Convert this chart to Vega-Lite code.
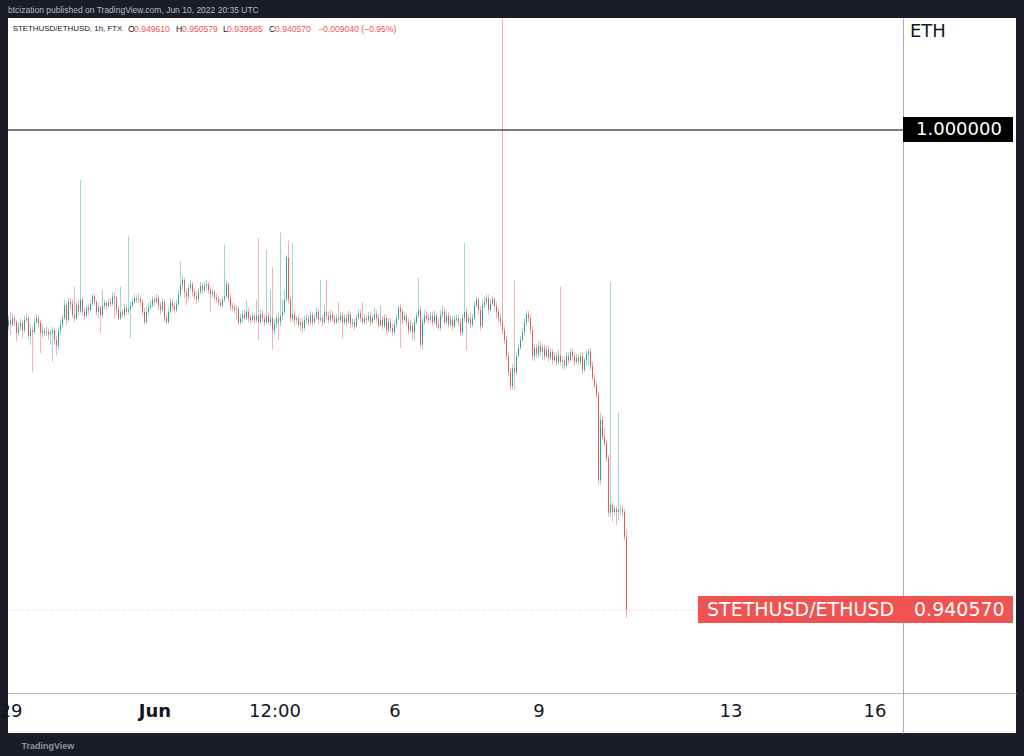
{
"$schema": "https://vega.github.io/schema/vega-lite/v6.json",
"width": 1008, "height": 715,
"autosize": {"type": "none"},
"padding": {"left": 8, "top": 18, "right": 8, "bottom": 23},
"background": "#1a1d28",
"view": {"fill": "#ffffff", "stroke": null},
"title": {"text": "btcization published on TradingView.com, Jun 10, 2022 20:35 UTC", "anchor": "start", "frame": "group", "font": "Liberation Sans", "fontSize": 8.5, "fontWeight": "normal", "color": "#b7b9c0", "offset": 4},
"data": {"values": [
{"t":"2022-05-28T23:00Z","o":0.9757,"h":0.9770,"l":0.9752,"c":0.9764},
{"t":"2022-05-29T00:00Z","o":0.9764,"h":0.9775,"l":0.9746,"c":0.9759},
{"t":"2022-05-29T01:00Z","o":0.9759,"h":0.9773,"l":0.9756,"c":0.9767},
{"t":"2022-05-29T02:00Z","o":0.9767,"h":0.9771,"l":0.9757,"c":0.9762},
{"t":"2022-05-29T03:00Z","o":0.9762,"h":0.9765,"l":0.9738,"c":0.9749},
{"t":"2022-05-29T04:00Z","o":0.9749,"h":0.9762,"l":0.9745,"c":0.9756},
{"t":"2022-05-29T05:00Z","o":0.9756,"h":0.9767,"l":0.9752,"c":0.9761},
{"t":"2022-05-29T06:00Z","o":0.9761,"h":0.9765,"l":0.9742,"c":0.9752},
{"t":"2022-05-29T07:00Z","o":0.9752,"h":0.9770,"l":0.9749,"c":0.9765},
{"t":"2022-05-29T08:00Z","o":0.9765,"h":0.9773,"l":0.9762,"c":0.9767},
{"t":"2022-05-29T09:00Z","o":0.9767,"h":0.9770,"l":0.9740,"c":0.9745},
{"t":"2022-05-29T10:00Z","o":0.9745,"h":0.9760,"l":0.9734,"c":0.9752},
{"t":"2022-05-29T11:00Z","o":0.9752,"h":0.9757,"l":0.9700,"c":0.9750},
{"t":"2022-05-29T12:00Z","o":0.9750,"h":0.9767,"l":0.9747,"c":0.9762},
{"t":"2022-05-29T13:00Z","o":0.9762,"h":0.9772,"l":0.9761,"c":0.9767},
{"t":"2022-05-29T14:00Z","o":0.9767,"h":0.9771,"l":0.9755,"c":0.9761},
{"t":"2022-05-29T15:00Z","o":0.9761,"h":0.9765,"l":0.9724,"c":0.9749},
{"t":"2022-05-29T16:00Z","o":0.9749,"h":0.9759,"l":0.9742,"c":0.9751},
{"t":"2022-05-29T17:00Z","o":0.9751,"h":0.9755,"l":0.9745,"c":0.9749},
{"t":"2022-05-29T18:00Z","o":0.9749,"h":0.9756,"l":0.9745,"c":0.9750},
{"t":"2022-05-29T19:00Z","o":0.9750,"h":0.9754,"l":0.9740,"c":0.9747},
{"t":"2022-05-29T20:00Z","o":0.9747,"h":0.9752,"l":0.9734,"c":0.9749},
{"t":"2022-05-29T21:00Z","o":0.9749,"h":0.9756,"l":0.9713,"c":0.9752},
{"t":"2022-05-29T22:00Z","o":0.9752,"h":0.9755,"l":0.9734,"c":0.9740},
{"t":"2022-05-29T23:00Z","o":0.9740,"h":0.9745,"l":0.9721,"c":0.9733},
{"t":"2022-05-30T00:00Z","o":0.9733,"h":0.9756,"l":0.9728,"c":0.9752},
{"t":"2022-05-30T01:00Z","o":0.9752,"h":0.9765,"l":0.9746,"c":0.9759},
{"t":"2022-05-30T02:00Z","o":0.9759,"h":0.9771,"l":0.9755,"c":0.9767},
{"t":"2022-05-30T03:00Z","o":0.9767,"h":0.9790,"l":0.9765,"c":0.9783},
{"t":"2022-05-30T04:00Z","o":0.9783,"h":0.9786,"l":0.9759,"c":0.9765},
{"t":"2022-05-30T05:00Z","o":0.9765,"h":0.9792,"l":0.9762,"c":0.9787},
{"t":"2022-05-30T06:00Z","o":0.9787,"h":0.9792,"l":0.9777,"c":0.9785},
{"t":"2022-05-30T07:00Z","o":0.9785,"h":0.9790,"l":0.9767,"c":0.9771},
{"t":"2022-05-30T08:00Z","o":0.9771,"h":0.9806,"l":0.9762,"c":0.9767},
{"t":"2022-05-30T09:00Z","o":0.9767,"h":0.9787,"l":0.9765,"c":0.9783},
{"t":"2022-05-30T10:00Z","o":0.9783,"h":0.9790,"l":0.9771,"c":0.9775},
{"t":"2022-05-30T11:00Z","o":0.9775,"h":0.9938,"l":0.9773,"c":0.9790},
{"t":"2022-05-30T12:00Z","o":0.9790,"h":0.9792,"l":0.9770,"c":0.9775},
{"t":"2022-05-30T13:00Z","o":0.9775,"h":0.9780,"l":0.9765,"c":0.9770},
{"t":"2022-05-30T14:00Z","o":0.9770,"h":0.9783,"l":0.9767,"c":0.9780},
{"t":"2022-05-30T15:00Z","o":0.9780,"h":0.9785,"l":0.9771,"c":0.9777},
{"t":"2022-05-30T16:00Z","o":0.9777,"h":0.9790,"l":0.9775,"c":0.9785},
{"t":"2022-05-30T17:00Z","o":0.9785,"h":0.9797,"l":0.9782,"c":0.9794},
{"t":"2022-05-30T18:00Z","o":0.9794,"h":0.9797,"l":0.9783,"c":0.9787},
{"t":"2022-05-30T19:00Z","o":0.9787,"h":0.9790,"l":0.9770,"c":0.9775},
{"t":"2022-05-30T20:00Z","o":0.9775,"h":0.9786,"l":0.9767,"c":0.9780},
{"t":"2022-05-30T21:00Z","o":0.9780,"h":0.9783,"l":0.9749,"c":0.9771},
{"t":"2022-05-30T22:00Z","o":0.9771,"h":0.9802,"l":0.9767,"c":0.9782},
{"t":"2022-05-30T23:00Z","o":0.9782,"h":0.9790,"l":0.9778,"c":0.9786},
{"t":"2022-05-31T00:00Z","o":0.9786,"h":0.9788,"l":0.9777,"c":0.9782},
{"t":"2022-05-31T01:00Z","o":0.9782,"h":0.9791,"l":0.9780,"c":0.9787},
{"t":"2022-05-31T02:00Z","o":0.9787,"h":0.9792,"l":0.9781,"c":0.9785},
{"t":"2022-05-31T03:00Z","o":0.9785,"h":0.9799,"l":0.9782,"c":0.9794},
{"t":"2022-05-31T04:00Z","o":0.9794,"h":0.9798,"l":0.9767,"c":0.9792},
{"t":"2022-05-31T05:00Z","o":0.9792,"h":0.9794,"l":0.9771,"c":0.9777},
{"t":"2022-05-31T06:00Z","o":0.9777,"h":0.9782,"l":0.9765,"c":0.9767},
{"t":"2022-05-31T07:00Z","o":0.9767,"h":0.9806,"l":0.9765,"c":0.9775},
{"t":"2022-05-31T08:00Z","o":0.9775,"h":0.9778,"l":0.9767,"c":0.9771},
{"t":"2022-05-31T09:00Z","o":0.9771,"h":0.9785,"l":0.9767,"c":0.9780},
{"t":"2022-05-31T10:00Z","o":0.9780,"h":0.9783,"l":0.9770,"c":0.9775},
{"t":"2022-05-31T11:00Z","o":0.9775,"h":0.9868,"l":0.9772,"c":0.9778},
{"t":"2022-05-31T12:00Z","o":0.9778,"h":0.9787,"l":0.9742,"c":0.9782},
{"t":"2022-05-31T13:00Z","o":0.9782,"h":0.9792,"l":0.9780,"c":0.9787},
{"t":"2022-05-31T14:00Z","o":0.9787,"h":0.9797,"l":0.9785,"c":0.9792},
{"t":"2022-05-31T15:00Z","o":0.9792,"h":0.9796,"l":0.9786,"c":0.9790},
{"t":"2022-05-31T16:00Z","o":0.9790,"h":0.9798,"l":0.9786,"c":0.9791},
{"t":"2022-05-31T17:00Z","o":0.9791,"h":0.9794,"l":0.9782,"c":0.9787},
{"t":"2022-05-31T18:00Z","o":0.9787,"h":0.9790,"l":0.9770,"c":0.9775},
{"t":"2022-05-31T19:00Z","o":0.9775,"h":0.9780,"l":0.9759,"c":0.9762},
{"t":"2022-05-31T20:00Z","o":0.9762,"h":0.9782,"l":0.9760,"c":0.9775},
{"t":"2022-05-31T21:00Z","o":0.9775,"h":0.9786,"l":0.9770,"c":0.9780},
{"t":"2022-05-31T22:00Z","o":0.9780,"h":0.9790,"l":0.9777,"c":0.9783},
{"t":"2022-05-31T23:00Z","o":0.9783,"h":0.9794,"l":0.9780,"c":0.9790},
{"t":"2022-06-01T00:00Z","o":0.9790,"h":0.9794,"l":0.9782,"c":0.9787},
{"t":"2022-06-01T01:00Z","o":0.9787,"h":0.9797,"l":0.9785,"c":0.9792},
{"t":"2022-06-01T02:00Z","o":0.9792,"h":0.9796,"l":0.9777,"c":0.9783},
{"t":"2022-06-01T03:00Z","o":0.9783,"h":0.9787,"l":0.9772,"c":0.9777},
{"t":"2022-06-01T04:00Z","o":0.9777,"h":0.9792,"l":0.9775,"c":0.9787},
{"t":"2022-06-01T05:00Z","o":0.9787,"h":0.9790,"l":0.9762,"c":0.9767},
{"t":"2022-06-01T06:00Z","o":0.9767,"h":0.9771,"l":0.9759,"c":0.9762},
{"t":"2022-06-01T07:00Z","o":0.9762,"h":0.9780,"l":0.9760,"c":0.9775},
{"t":"2022-06-01T08:00Z","o":0.9775,"h":0.9792,"l":0.9772,"c":0.9787},
{"t":"2022-06-01T09:00Z","o":0.9787,"h":0.9791,"l":0.9777,"c":0.9782},
{"t":"2022-06-01T10:00Z","o":0.9782,"h":0.9786,"l":0.9773,"c":0.9777},
{"t":"2022-06-01T11:00Z","o":0.9777,"h":0.9790,"l":0.9775,"c":0.9785},
{"t":"2022-06-01T12:00Z","o":0.9785,"h":0.9802,"l":0.9782,"c":0.9796},
{"t":"2022-06-01T13:00Z","o":0.9796,"h":0.9837,"l":0.9793,"c":0.9808},
{"t":"2022-06-01T14:00Z","o":0.9808,"h":0.9820,"l":0.9802,"c":0.9814},
{"t":"2022-06-01T15:00Z","o":0.9814,"h":0.9817,"l":0.9792,"c":0.9799},
{"t":"2022-06-01T16:00Z","o":0.9799,"h":0.9804,"l":0.9783,"c":0.9794},
{"t":"2022-06-01T17:00Z","o":0.9794,"h":0.9809,"l":0.9790,"c":0.9804},
{"t":"2022-06-01T18:00Z","o":0.9804,"h":0.9814,"l":0.9802,"c":0.9809},
{"t":"2022-06-01T19:00Z","o":0.9809,"h":0.9812,"l":0.9794,"c":0.9799},
{"t":"2022-06-01T20:00Z","o":0.9799,"h":0.9804,"l":0.9790,"c":0.9794},
{"t":"2022-06-01T21:00Z","o":0.9794,"h":0.9801,"l":0.9785,"c":0.9790},
{"t":"2022-06-01T22:00Z","o":0.9790,"h":0.9804,"l":0.9787,"c":0.9799},
{"t":"2022-06-01T23:00Z","o":0.9799,"h":0.9812,"l":0.9797,"c":0.9807},
{"t":"2022-06-02T00:00Z","o":0.9807,"h":0.9811,"l":0.9797,"c":0.9802},
{"t":"2022-06-02T01:00Z","o":0.9802,"h":0.9812,"l":0.9799,"c":0.9807},
{"t":"2022-06-02T02:00Z","o":0.9807,"h":0.9814,"l":0.9802,"c":0.9809},
{"t":"2022-06-02T03:00Z","o":0.9809,"h":0.9812,"l":0.9797,"c":0.9802},
{"t":"2022-06-02T04:00Z","o":0.9802,"h":0.9806,"l":0.9775,"c":0.9797},
{"t":"2022-06-02T05:00Z","o":0.9797,"h":0.9804,"l":0.9793,"c":0.9799},
{"t":"2022-06-02T06:00Z","o":0.9799,"h":0.9802,"l":0.9790,"c":0.9793},
{"t":"2022-06-02T07:00Z","o":0.9793,"h":0.9797,"l":0.9786,"c":0.9790},
{"t":"2022-06-02T08:00Z","o":0.9790,"h":0.9794,"l":0.9782,"c":0.9787},
{"t":"2022-06-02T09:00Z","o":0.9787,"h":0.9791,"l":0.9780,"c":0.9783},
{"t":"2022-06-02T10:00Z","o":0.9783,"h":0.9794,"l":0.9780,"c":0.9790},
{"t":"2022-06-02T11:00Z","o":0.9790,"h":0.9858,"l":0.9787,"c":0.9794},
{"t":"2022-06-02T12:00Z","o":0.9794,"h":0.9814,"l":0.9792,"c":0.9809},
{"t":"2022-06-02T13:00Z","o":0.9809,"h":0.9812,"l":0.9787,"c":0.9792},
{"t":"2022-06-02T14:00Z","o":0.9792,"h":0.9797,"l":0.9777,"c":0.9782},
{"t":"2022-06-02T15:00Z","o":0.9782,"h":0.9786,"l":0.9775,"c":0.9780},
{"t":"2022-06-02T16:00Z","o":0.9780,"h":0.9785,"l":0.9773,"c":0.9777},
{"t":"2022-06-02T17:00Z","o":0.9777,"h":0.9783,"l":0.9765,"c":0.9778},
{"t":"2022-06-02T18:00Z","o":0.9778,"h":0.9782,"l":0.9759,"c":0.9762},
{"t":"2022-06-02T19:00Z","o":0.9762,"h":0.9773,"l":0.9759,"c":0.9767},
{"t":"2022-06-02T20:00Z","o":0.9767,"h":0.9777,"l":0.9762,"c":0.9772},
{"t":"2022-06-02T21:00Z","o":0.9772,"h":0.9777,"l":0.9764,"c":0.9767},
{"t":"2022-06-02T22:00Z","o":0.9767,"h":0.9790,"l":0.9765,"c":0.9775},
{"t":"2022-06-02T23:00Z","o":0.9775,"h":0.9780,"l":0.9762,"c":0.9767},
{"t":"2022-06-03T00:00Z","o":0.9767,"h":0.9772,"l":0.9760,"c":0.9765},
{"t":"2022-06-03T01:00Z","o":0.9765,"h":0.9775,"l":0.9762,"c":0.9770},
{"t":"2022-06-03T02:00Z","o":0.9770,"h":0.9773,"l":0.9760,"c":0.9765},
{"t":"2022-06-03T03:00Z","o":0.9765,"h":0.9790,"l":0.9762,"c":0.9770},
{"t":"2022-06-03T04:00Z","o":0.9770,"h":0.9866,"l":0.9740,"c":0.9762},
{"t":"2022-06-03T05:00Z","o":0.9762,"h":0.9777,"l":0.9760,"c":0.9772},
{"t":"2022-06-03T06:00Z","o":0.9772,"h":0.9777,"l":0.9762,"c":0.9767},
{"t":"2022-06-03T07:00Z","o":0.9767,"h":0.9772,"l":0.9757,"c":0.9762},
{"t":"2022-06-03T08:00Z","o":0.9762,"h":0.9851,"l":0.9760,"c":0.9770},
{"t":"2022-06-03T09:00Z","o":0.9770,"h":0.9775,"l":0.9759,"c":0.9762},
{"t":"2022-06-03T10:00Z","o":0.9762,"h":0.9802,"l":0.9757,"c":0.9767},
{"t":"2022-06-03T11:00Z","o":0.9767,"h":0.9830,"l":0.9728,"c":0.9752},
{"t":"2022-06-03T12:00Z","o":0.9752,"h":0.9767,"l":0.9747,"c":0.9760},
{"t":"2022-06-03T13:00Z","o":0.9760,"h":0.9772,"l":0.9755,"c":0.9767},
{"t":"2022-06-03T14:00Z","o":0.9767,"h":0.9775,"l":0.9740,"c":0.9762},
{"t":"2022-06-03T15:00Z","o":0.9762,"h":0.9873,"l":0.9757,"c":0.9770},
{"t":"2022-06-03T16:00Z","o":0.9770,"h":0.9790,"l":0.9765,"c":0.9775},
{"t":"2022-06-03T17:00Z","o":0.9775,"h":0.9802,"l":0.9771,"c":0.9790},
{"t":"2022-06-03T18:00Z","o":0.9790,"h":0.9845,"l":0.9787,"c":0.9842},
{"t":"2022-06-03T19:00Z","o":0.9842,"h":0.9864,"l":0.9785,"c":0.9790},
{"t":"2022-06-03T20:00Z","o":0.9790,"h":0.9794,"l":0.9762,"c":0.9767},
{"t":"2022-06-03T21:00Z","o":0.9767,"h":0.9860,"l":0.9762,"c":0.9772},
{"t":"2022-06-03T22:00Z","o":0.9772,"h":0.9777,"l":0.9757,"c":0.9765},
{"t":"2022-06-03T23:00Z","o":0.9765,"h":0.9770,"l":0.9760,"c":0.9767},
{"t":"2022-06-04T00:00Z","o":0.9767,"h":0.9772,"l":0.9755,"c":0.9759},
{"t":"2022-06-04T01:00Z","o":0.9759,"h":0.9767,"l":0.9752,"c":0.9762},
{"t":"2022-06-04T02:00Z","o":0.9762,"h":0.9767,"l":0.9749,"c":0.9755},
{"t":"2022-06-04T03:00Z","o":0.9755,"h":0.9770,"l":0.9752,"c":0.9765},
{"t":"2022-06-04T04:00Z","o":0.9765,"h":0.9772,"l":0.9760,"c":0.9767},
{"t":"2022-06-04T05:00Z","o":0.9767,"h":0.9771,"l":0.9757,"c":0.9762},
{"t":"2022-06-04T06:00Z","o":0.9762,"h":0.9777,"l":0.9760,"c":0.9771},
{"t":"2022-06-04T07:00Z","o":0.9771,"h":0.9775,"l":0.9757,"c":0.9762},
{"t":"2022-06-04T08:00Z","o":0.9762,"h":0.9772,"l":0.9760,"c":0.9767},
{"t":"2022-06-04T09:00Z","o":0.9767,"h":0.9780,"l":0.9765,"c":0.9775},
{"t":"2022-06-04T10:00Z","o":0.9775,"h":0.9777,"l":0.9760,"c":0.9765},
{"t":"2022-06-04T11:00Z","o":0.9765,"h":0.9814,"l":0.9762,"c":0.9767},
{"t":"2022-06-04T12:00Z","o":0.9767,"h":0.9771,"l":0.9757,"c":0.9762},
{"t":"2022-06-04T13:00Z","o":0.9762,"h":0.9783,"l":0.9760,"c":0.9775},
{"t":"2022-06-04T14:00Z","o":0.9775,"h":0.9814,"l":0.9765,"c":0.9770},
{"t":"2022-06-04T15:00Z","o":0.9770,"h":0.9775,"l":0.9760,"c":0.9765},
{"t":"2022-06-04T16:00Z","o":0.9765,"h":0.9777,"l":0.9762,"c":0.9771},
{"t":"2022-06-04T17:00Z","o":0.9771,"h":0.9775,"l":0.9762,"c":0.9767},
{"t":"2022-06-04T18:00Z","o":0.9767,"h":0.9771,"l":0.9759,"c":0.9762},
{"t":"2022-06-04T19:00Z","o":0.9762,"h":0.9772,"l":0.9760,"c":0.9767},
{"t":"2022-06-04T20:00Z","o":0.9767,"h":0.9787,"l":0.9760,"c":0.9765},
{"t":"2022-06-04T21:00Z","o":0.9765,"h":0.9775,"l":0.9762,"c":0.9770},
{"t":"2022-06-04T22:00Z","o":0.9770,"h":0.9775,"l":0.9742,"c":0.9762},
{"t":"2022-06-04T23:00Z","o":0.9762,"h":0.9772,"l":0.9759,"c":0.9767},
{"t":"2022-06-05T00:00Z","o":0.9767,"h":0.9772,"l":0.9757,"c":0.9762},
{"t":"2022-06-05T01:00Z","o":0.9762,"h":0.9777,"l":0.9760,"c":0.9772},
{"t":"2022-06-05T02:00Z","o":0.9772,"h":0.9775,"l":0.9755,"c":0.9760},
{"t":"2022-06-05T03:00Z","o":0.9760,"h":0.9767,"l":0.9756,"c":0.9762},
{"t":"2022-06-05T04:00Z","o":0.9762,"h":0.9767,"l":0.9752,"c":0.9757},
{"t":"2022-06-05T05:00Z","o":0.9757,"h":0.9772,"l":0.9755,"c":0.9767},
{"t":"2022-06-05T06:00Z","o":0.9767,"h":0.9778,"l":0.9765,"c":0.9773},
{"t":"2022-06-05T07:00Z","o":0.9773,"h":0.9777,"l":0.9762,"c":0.9767},
{"t":"2022-06-05T08:00Z","o":0.9767,"h":0.9787,"l":0.9759,"c":0.9762},
{"t":"2022-06-05T09:00Z","o":0.9762,"h":0.9772,"l":0.9760,"c":0.9767},
{"t":"2022-06-05T10:00Z","o":0.9767,"h":0.9771,"l":0.9759,"c":0.9765},
{"t":"2022-06-05T11:00Z","o":0.9765,"h":0.9775,"l":0.9762,"c":0.9770},
{"t":"2022-06-05T12:00Z","o":0.9770,"h":0.9775,"l":0.9757,"c":0.9762},
{"t":"2022-06-05T13:00Z","o":0.9762,"h":0.9772,"l":0.9760,"c":0.9767},
{"t":"2022-06-05T14:00Z","o":0.9767,"h":0.9780,"l":0.9765,"c":0.9772},
{"t":"2022-06-05T15:00Z","o":0.9772,"h":0.9777,"l":0.9762,"c":0.9767},
{"t":"2022-06-05T16:00Z","o":0.9767,"h":0.9772,"l":0.9755,"c":0.9759},
{"t":"2022-06-05T17:00Z","o":0.9759,"h":0.9783,"l":0.9756,"c":0.9765},
{"t":"2022-06-05T18:00Z","o":0.9765,"h":0.9770,"l":0.9752,"c":0.9757},
{"t":"2022-06-05T19:00Z","o":0.9757,"h":0.9772,"l":0.9755,"c":0.9767},
{"t":"2022-06-05T20:00Z","o":0.9767,"h":0.9771,"l":0.9747,"c":0.9752},
{"t":"2022-06-05T21:00Z","o":0.9752,"h":0.9767,"l":0.9749,"c":0.9762},
{"t":"2022-06-05T22:00Z","o":0.9762,"h":0.9767,"l":0.9750,"c":0.9755},
{"t":"2022-06-05T23:00Z","o":0.9755,"h":0.9760,"l":0.9745,"c":0.9750},
{"t":"2022-06-06T00:00Z","o":0.9750,"h":0.9765,"l":0.9747,"c":0.9759},
{"t":"2022-06-06T01:00Z","o":0.9759,"h":0.9772,"l":0.9755,"c":0.9767},
{"t":"2022-06-06T02:00Z","o":0.9767,"h":0.9783,"l":0.9765,"c":0.9780},
{"t":"2022-06-06T03:00Z","o":0.9780,"h":0.9785,"l":0.9730,"c":0.9775},
{"t":"2022-06-06T04:00Z","o":0.9775,"h":0.9778,"l":0.9760,"c":0.9765},
{"t":"2022-06-06T05:00Z","o":0.9765,"h":0.9775,"l":0.9762,"c":0.9770},
{"t":"2022-06-06T06:00Z","o":0.9770,"h":0.9773,"l":0.9757,"c":0.9762},
{"t":"2022-06-06T07:00Z","o":0.9762,"h":0.9767,"l":0.9747,"c":0.9752},
{"t":"2022-06-06T08:00Z","o":0.9752,"h":0.9765,"l":0.9750,"c":0.9757},
{"t":"2022-06-06T09:00Z","o":0.9757,"h":0.9762,"l":0.9740,"c":0.9750},
{"t":"2022-06-06T10:00Z","o":0.9750,"h":0.9767,"l":0.9738,"c":0.9762},
{"t":"2022-06-06T11:00Z","o":0.9762,"h":0.9775,"l":0.9759,"c":0.9770},
{"t":"2022-06-06T12:00Z","o":0.9770,"h":0.9817,"l":0.9767,"c":0.9777},
{"t":"2022-06-06T13:00Z","o":0.9777,"h":0.9782,"l":0.9730,"c":0.9734},
{"t":"2022-06-06T14:00Z","o":0.9734,"h":0.9767,"l":0.9728,"c":0.9762},
{"t":"2022-06-06T15:00Z","o":0.9762,"h":0.9777,"l":0.9759,"c":0.9770},
{"t":"2022-06-06T16:00Z","o":0.9770,"h":0.9775,"l":0.9762,"c":0.9767},
{"t":"2022-06-06T17:00Z","o":0.9767,"h":0.9772,"l":0.9760,"c":0.9765},
{"t":"2022-06-06T18:00Z","o":0.9765,"h":0.9775,"l":0.9762,"c":0.9770},
{"t":"2022-06-06T19:00Z","o":0.9770,"h":0.9775,"l":0.9757,"c":0.9762},
{"t":"2022-06-06T20:00Z","o":0.9762,"h":0.9777,"l":0.9760,"c":0.9770},
{"t":"2022-06-06T21:00Z","o":0.9770,"h":0.9773,"l":0.9755,"c":0.9759},
{"t":"2022-06-06T22:00Z","o":0.9759,"h":0.9767,"l":0.9752,"c":0.9755},
{"t":"2022-06-06T23:00Z","o":0.9755,"h":0.9777,"l":0.9752,"c":0.9771},
{"t":"2022-06-07T00:00Z","o":0.9771,"h":0.9783,"l":0.9767,"c":0.9775},
{"t":"2022-06-07T01:00Z","o":0.9775,"h":0.9780,"l":0.9759,"c":0.9762},
{"t":"2022-06-07T02:00Z","o":0.9762,"h":0.9777,"l":0.9760,"c":0.9770},
{"t":"2022-06-07T03:00Z","o":0.9770,"h":0.9775,"l":0.9755,"c":0.9759},
{"t":"2022-06-07T04:00Z","o":0.9759,"h":0.9770,"l":0.9756,"c":0.9765},
{"t":"2022-06-07T05:00Z","o":0.9765,"h":0.9770,"l":0.9752,"c":0.9757},
{"t":"2022-06-07T06:00Z","o":0.9757,"h":0.9770,"l":0.9755,"c":0.9765},
{"t":"2022-06-07T07:00Z","o":0.9765,"h":0.9772,"l":0.9762,"c":0.9767},
{"t":"2022-06-07T08:00Z","o":0.9767,"h":0.9772,"l":0.9757,"c":0.9762},
{"t":"2022-06-07T09:00Z","o":0.9762,"h":0.9767,"l":0.9745,"c":0.9750},
{"t":"2022-06-07T10:00Z","o":0.9750,"h":0.9772,"l":0.9747,"c":0.9767},
{"t":"2022-06-07T11:00Z","o":0.9767,"h":0.9860,"l":0.9762,"c":0.9775},
{"t":"2022-06-07T12:00Z","o":0.9775,"h":0.9780,"l":0.9728,"c":0.9762},
{"t":"2022-06-07T13:00Z","o":0.9762,"h":0.9772,"l":0.9760,"c":0.9767},
{"t":"2022-06-07T14:00Z","o":0.9767,"h":0.9775,"l":0.9755,"c":0.9759},
{"t":"2022-06-07T15:00Z","o":0.9759,"h":0.9772,"l":0.9756,"c":0.9767},
{"t":"2022-06-07T16:00Z","o":0.9767,"h":0.9787,"l":0.9765,"c":0.9782},
{"t":"2022-06-07T17:00Z","o":0.9782,"h":0.9794,"l":0.9780,"c":0.9790},
{"t":"2022-06-07T18:00Z","o":0.9790,"h":0.9793,"l":0.9772,"c":0.9777},
{"t":"2022-06-07T19:00Z","o":0.9777,"h":0.9782,"l":0.9752,"c":0.9757},
{"t":"2022-06-07T20:00Z","o":0.9757,"h":0.9790,"l":0.9755,"c":0.9783},
{"t":"2022-06-07T21:00Z","o":0.9783,"h":0.9793,"l":0.9780,"c":0.9787},
{"t":"2022-06-07T22:00Z","o":0.9787,"h":0.9797,"l":0.9783,"c":0.9792},
{"t":"2022-06-07T23:00Z","o":0.9792,"h":0.9796,"l":0.9772,"c":0.9777},
{"t":"2022-06-08T00:00Z","o":0.9777,"h":0.9790,"l":0.9775,"c":0.9785},
{"t":"2022-06-08T01:00Z","o":0.9785,"h":0.9794,"l":0.9782,"c":0.9790},
{"t":"2022-06-08T02:00Z","o":0.9790,"h":0.9793,"l":0.9777,"c":0.9782},
{"t":"2022-06-08T03:00Z","o":0.9782,"h":0.9787,"l":0.9767,"c":0.9775},
{"t":"2022-06-08T04:00Z","o":0.9775,"h":0.9780,"l":0.9762,"c":0.9767},
{"t":"2022-06-08T05:00Z","o":0.9767,"h":0.9772,"l":0.9757,"c":0.9762},
{"t":"2022-06-08T06:00Z","o":0.9762,"h":1.0200,"l":0.9747,"c":0.9752},
{"t":"2022-06-08T07:00Z","o":0.9752,"h":0.9757,"l":0.9735,"c":0.9740},
{"t":"2022-06-08T08:00Z","o":0.9740,"h":0.9745,"l":0.9715,"c":0.9720},
{"t":"2022-06-08T09:00Z","o":0.9720,"h":0.9725,"l":0.9695,"c":0.9700},
{"t":"2022-06-08T10:00Z","o":0.9700,"h":0.9705,"l":0.9678,"c":0.9683},
{"t":"2022-06-08T11:00Z","o":0.9683,"h":0.9710,"l":0.9678,"c":0.9705},
{"t":"2022-06-08T12:00Z","o":0.9705,"h":0.9814,"l":0.9678,"c":0.9700},
{"t":"2022-06-08T13:00Z","o":0.9700,"h":0.9725,"l":0.9697,"c":0.9720},
{"t":"2022-06-08T14:00Z","o":0.9720,"h":0.9735,"l":0.9718,"c":0.9730},
{"t":"2022-06-08T15:00Z","o":0.9730,"h":0.9745,"l":0.9728,"c":0.9740},
{"t":"2022-06-08T16:00Z","o":0.9740,"h":0.9755,"l":0.9738,"c":0.9750},
{"t":"2022-06-08T17:00Z","o":0.9750,"h":0.9767,"l":0.9745,"c":0.9762},
{"t":"2022-06-08T18:00Z","o":0.9762,"h":0.9777,"l":0.9757,"c":0.9772},
{"t":"2022-06-08T19:00Z","o":0.9772,"h":0.9776,"l":0.9762,"c":0.9767},
{"t":"2022-06-08T20:00Z","o":0.9767,"h":0.9772,"l":0.9747,"c":0.9752},
{"t":"2022-06-08T21:00Z","o":0.9752,"h":0.9757,"l":0.9715,"c":0.9720},
{"t":"2022-06-08T22:00Z","o":0.9720,"h":0.9735,"l":0.9713,"c":0.9730},
{"t":"2022-06-08T23:00Z","o":0.9730,"h":0.9735,"l":0.9718,"c":0.9723},
{"t":"2022-06-09T00:00Z","o":0.9723,"h":0.9738,"l":0.9718,"c":0.9733},
{"t":"2022-06-09T01:00Z","o":0.9733,"h":0.9738,"l":0.9720,"c":0.9725},
{"t":"2022-06-09T02:00Z","o":0.9725,"h":0.9735,"l":0.9715,"c":0.9730},
{"t":"2022-06-09T03:00Z","o":0.9730,"h":0.9734,"l":0.9715,"c":0.9720},
{"t":"2022-06-09T04:00Z","o":0.9720,"h":0.9733,"l":0.9718,"c":0.9728},
{"t":"2022-06-09T05:00Z","o":0.9728,"h":0.9733,"l":0.9713,"c":0.9718},
{"t":"2022-06-09T06:00Z","o":0.9718,"h":0.9730,"l":0.9715,"c":0.9725},
{"t":"2022-06-09T07:00Z","o":0.9725,"h":0.9729,"l":0.9710,"c":0.9715},
{"t":"2022-06-09T08:00Z","o":0.9715,"h":0.9725,"l":0.9713,"c":0.9720},
{"t":"2022-06-09T09:00Z","o":0.9720,"h":0.9725,"l":0.9708,"c":0.9713},
{"t":"2022-06-09T10:00Z","o":0.9713,"h":0.9728,"l":0.9710,"c":0.9721},
{"t":"2022-06-09T11:00Z","o":0.9721,"h":0.9806,"l":0.9708,"c":0.9713},
{"t":"2022-06-09T12:00Z","o":0.9713,"h":0.9720,"l":0.9705,"c":0.9715},
{"t":"2022-06-09T13:00Z","o":0.9715,"h":0.9720,"l":0.9703,"c":0.9708},
{"t":"2022-06-09T14:00Z","o":0.9708,"h":0.9725,"l":0.9705,"c":0.9720},
{"t":"2022-06-09T15:00Z","o":0.9720,"h":0.9725,"l":0.9710,"c":0.9715},
{"t":"2022-06-09T16:00Z","o":0.9715,"h":0.9730,"l":0.9713,"c":0.9725},
{"t":"2022-06-09T17:00Z","o":0.9725,"h":0.9729,"l":0.9715,"c":0.9720},
{"t":"2022-06-09T18:00Z","o":0.9720,"h":0.9725,"l":0.9708,"c":0.9713},
{"t":"2022-06-09T19:00Z","o":0.9713,"h":0.9723,"l":0.9710,"c":0.9718},
{"t":"2022-06-09T20:00Z","o":0.9718,"h":0.9723,"l":0.9708,"c":0.9713},
{"t":"2022-06-09T21:00Z","o":0.9713,"h":0.9725,"l":0.9709,"c":0.9720},
{"t":"2022-06-09T22:00Z","o":0.9720,"h":0.9725,"l":0.9698,"c":0.9703},
{"t":"2022-06-09T23:00Z","o":0.9703,"h":0.9718,"l":0.9700,"c":0.9715},
{"t":"2022-06-10T00:00Z","o":0.9715,"h":0.9728,"l":0.9708,"c":0.9723},
{"t":"2022-06-10T01:00Z","o":0.9723,"h":0.9730,"l":0.9709,"c":0.9726},
{"t":"2022-06-10T02:00Z","o":0.9726,"h":0.9730,"l":0.9703,"c":0.9708},
{"t":"2022-06-10T03:00Z","o":0.9708,"h":0.9713,"l":0.9690,"c":0.9693},
{"t":"2022-06-10T04:00Z","o":0.9693,"h":0.9698,"l":0.9681,"c":0.9684},
{"t":"2022-06-10T05:00Z","o":0.9684,"h":0.9690,"l":0.9668,"c":0.9672},
{"t":"2022-06-10T06:00Z","o":0.9672,"h":0.9676,"l":0.9561,"c":0.9567},
{"t":"2022-06-10T07:00Z","o":0.9567,"h":0.9650,"l":0.9561,"c":0.9641},
{"t":"2022-06-10T08:00Z","o":0.9641,"h":0.9646,"l":0.9616,"c":0.9620},
{"t":"2022-06-10T09:00Z","o":0.9620,"h":0.9631,"l":0.9608,"c":0.9612},
{"t":"2022-06-10T10:00Z","o":0.9612,"h":0.9616,"l":0.9589,"c":0.9594},
{"t":"2022-06-10T11:00Z","o":0.9594,"h":0.9598,"l":0.9521,"c":0.9526},
{"t":"2022-06-10T12:00Z","o":0.9526,"h":0.9811,"l":0.9521,"c":0.9536},
{"t":"2022-06-10T13:00Z","o":0.9536,"h":0.9539,"l":0.9515,"c":0.9527},
{"t":"2022-06-10T14:00Z","o":0.9527,"h":0.9536,"l":0.9523,"c":0.9531},
{"t":"2022-06-10T15:00Z","o":0.9531,"h":0.9534,"l":0.9511,"c":0.9527},
{"t":"2022-06-10T16:00Z","o":0.9527,"h":0.9650,"l":0.9517,"c":0.9530},
{"t":"2022-06-10T17:00Z","o":0.9530,"h":0.9536,"l":0.9523,"c":0.9531},
{"t":"2022-06-10T18:00Z","o":0.9531,"h":0.9534,"l":0.9521,"c":0.9527},
{"t":"2022-06-10T19:00Z","o":0.9527,"h":0.9531,"l":0.9492,"c":0.94961},
{"t":"2022-06-10T20:00Z","o":0.949610,"h":0.950579,"l":0.939585,"c":0.940570}
]},
"layer": [
{"mark": {"type": "rule", "clip": true, "strokeWidth": 1, "opacity": 0.45},
 "encoding": {
  "x": {"field": "t", "type": "temporal",
   "scale": {"type": "utc", "padding": 0, "domain": [{"year": 2022, "month": 5, "date": 28, "hours": 22, "minutes": 45, "utc": true}, {"year": 2022, "month": 6, "date": 18, "hours": 22, "minutes": 45, "utc": true}]},
   "axis": {"orient": "bottom", "offset": -40,
    "values": [{"year": 2022, "month": 5, "date": 29, "utc": true}, {"year": 2022, "month": 6, "date": 1, "utc": true}, {"year": 2022, "month": 6, "date": 3, "hours": 12, "utc": true}, {"year": 2022, "month": 6, "date": 6, "utc": true}, {"year": 2022, "month": 6, "date": 9, "utc": true}, {"year": 2022, "month": 6, "date": 13, "utc": true}, {"year": 2022, "month": 6, "date": 16, "utc": true}],
    "labelExpr": "utchours(datum.value) == 12 ? '12:00' : (utcdate(datum.value) == 1 ? 'Jun' : '' + utcdate(datum.value))",
    "labelFont": "DejaVu Sans", "labelFontSize": 18, "labelColor": "#131722",
    "labelFontWeight": {"condition": {"test": "utcdate(datum.value) == 1 && utchours(datum.value) == 0", "value": "bold"}, "value": "normal"},
    "labelPadding": 9, "labelFlush": false, "labelOverlap": false,
    "ticks": false, "grid": false, "domainColor": "#b2b5be", "domainWidth": 1,
    "title": "TradingView", "titleFont": "Liberation Sans", "titleFontSize": 9, "titleFontWeight": "bold", "titleColor": "#8e919a",
    "titleX": 13, "titleY": 52, "titleAlign": "left", "titleAnchor": "start", "titleBaseline": "middle"}},
  "y": {"field": "l", "type": "quantitative",
   "scale": {"domain": [0.925344, 1.013867], "zero": false, "nice": false, "padding": 0},
   "axis": {"orient": "right", "offset": -113, "labels": false, "ticks": false, "grid": false, "domainColor": "#a9acb5", "title": null}},
  "y2": {"field": "h"},
  "color": {"condition": {"test": "datum.c < datum.o", "value": "#ef5350"}, "value": "#26a69a"}
 }},
{"mark": {"type": "bar", "clip": true, "width": 1, "opacity": 1},
 "encoding": {
  "x": {"field": "t", "type": "temporal"},
  "y": {"field": "o", "type": "quantitative"},
  "y2": {"field": "c"},
  "color": {"condition": {"test": "datum.c < datum.o", "value": "#ef5350"}, "value": "#26a69a"}
 }},
{"data": {"values": [{"p": 1.0}]},
 "mark": {"type": "rule", "color": "#000000", "strokeWidth": 1.2},
 "encoding": {
  "x": {"datum": {"year": 2022, "month": 5, "date": 28, "hours": 22, "minutes": 45, "utc": true}, "type": "temporal"},
  "x2": {"datum": {"year": 2022, "month": 6, "date": 16, "hours": 14, "minutes": 15, "utc": true}},
  "y": {"field": "p", "type": "quantitative"}
 }},
{"data": {"values": [{"p": 0.94057}]},
 "mark": {"type": "rule", "color": "#f4a9a8", "strokeWidth": 1, "strokeDash": [1, 2], "opacity": 0.7},
 "encoding": {
  "x": {"datum": {"year": 2022, "month": 5, "date": 28, "hours": 22, "minutes": 45, "utc": true}, "type": "temporal"},
  "x2": {"datum": {"year": 2022, "month": 6, "date": 12, "hours": 7, "minutes": 45, "utc": true}},
  "y": {"field": "p", "type": "quantitative"}
 }},
{"data": {"values": [{"top": 1.00161, "bottom": 0.99851}]},
 "mark": {"type": "rect", "color": "#000000"},
 "encoding": {
  "x": {"datum": {"year": 2022, "month": 6, "date": 16, "hours": 14, "minutes": 15, "utc": true}, "type": "temporal"},
  "x2": {"datum": {"year": 2022, "month": 6, "date": 18, "hours": 21, "minutes": 15, "utc": true}},
  "y": {"field": "top", "type": "quantitative"},
  "y2": {"field": "bottom"}
 }},
{"data": {"values": [{"top": 0.94231, "bottom": 0.93896}]},
 "mark": {"type": "rect", "color": "#f05350"},
 "encoding": {
  "x": {"datum": {"year": 2022, "month": 6, "date": 12, "hours": 7, "minutes": 45, "utc": true}, "type": "temporal"},
  "x2": {"datum": {"year": 2022, "month": 6, "date": 18, "hours": 21, "minutes": 15, "utc": true}},
  "y": {"field": "top", "type": "quantitative"},
  "y2": {"field": "bottom"}
 }},
{"data": {"values": [{"s": "1.000000", "p": 1.0}]},
 "mark": {"type": "text", "align": "left", "baseline": "middle", "font": "DejaVu Sans", "fontSize": 18, "color": "#ffffff"},
 "encoding": {
  "x": {"datum": {"year": 2022, "month": 6, "date": 16, "hours": 20, "minutes": 45, "utc": true}, "type": "temporal"},
  "y": {"field": "p", "type": "quantitative"},
  "text": {"field": "s"}
 }},
{"data": {"values": [{"s": "0.940570", "p": 0.94057}]},
 "mark": {"type": "text", "align": "left", "baseline": "middle", "font": "DejaVu Sans", "fontSize": 19, "color": "#ffffff"},
 "encoding": {
  "x": {"datum": {"year": 2022, "month": 6, "date": 16, "hours": 19, "minutes": 45, "utc": true}, "type": "temporal"},
  "y": {"field": "p", "type": "quantitative"},
  "text": {"field": "s"}
 }},
{"data": {"values": [{"s": "STETHUSD/ETHUSD", "p": 0.94057}]},
 "mark": {"type": "text", "align": "left", "baseline": "middle", "font": "DejaVu Sans", "fontSize": 19, "color": "#ffffff"},
 "encoding": {
  "x": {"datum": {"year": 2022, "month": 6, "date": 12, "hours": 12, "minutes": 15, "utc": true}, "type": "temporal"},
  "y": {"field": "p", "type": "quantitative"},
  "text": {"field": "s"}
 }},
{"data": {"values": [{"s": "ETH", "p": 1.01213}]},
 "mark": {"type": "text", "align": "left", "baseline": "middle", "font": "DejaVu Sans", "fontSize": 18, "color": "#131722"},
 "encoding": {
  "x": {"datum": {"year": 2022, "month": 6, "date": 16, "hours": 17, "minutes": 45, "utc": true}, "type": "temporal"},
  "y": {"field": "p", "type": "quantitative"},
  "text": {"field": "s"}
 }},
{"data": {"values": [{"s": "STETHUSD/ETHUSD, 1h, FTX", "p": 1.0125}]},
 "mark": {"type": "text", "align": "left", "baseline": "middle", "font": "Liberation Sans", "fontSize": 7.9, "color": "#131722"},
 "encoding": {
  "x": {"datum": {"year": 2022, "month": 5, "date": 29, "hours": 1, "minutes": 6, "utc": true}, "type": "temporal"},
  "y": {"field": "p", "type": "quantitative"},
  "text": {"field": "s"}
 }},
{"data": {"values": [{"s": "O", "p": 1.0125}]},
 "mark": {"type": "text", "align": "left", "baseline": "middle", "font": "Liberation Sans", "fontSize": 8.6, "color": "#131722"},
 "encoding": {
  "x": {"datum": {"year": 2022, "month": 5, "date": 31, "hours": 10, "minutes": 45, "utc": true}, "type": "temporal"},
  "y": {"field": "p", "type": "quantitative"},
  "text": {"field": "s"}
 }},
{"data": {"values": [{"s": "0.949610", "p": 1.0125}]},
 "mark": {"type": "text", "align": "left", "baseline": "middle", "font": "Liberation Sans", "fontSize": 8.6, "color": "#ef5350"},
 "encoding": {
  "x": {"datum": {"year": 2022, "month": 5, "date": 31, "hours": 13, "minutes": 45, "utc": true}, "type": "temporal"},
  "y": {"field": "p", "type": "quantitative"},
  "text": {"field": "s"}
 }},
{"data": {"values": [{"s": "H", "p": 1.0125}]},
 "mark": {"type": "text", "align": "left", "baseline": "middle", "font": "Liberation Sans", "fontSize": 8.6, "color": "#131722"},
 "encoding": {
  "x": {"datum": {"year": 2022, "month": 6, "date": 1, "hours": 10, "minutes": 45, "utc": true}, "type": "temporal"},
  "y": {"field": "p", "type": "quantitative"},
  "text": {"field": "s"}
 }},
{"data": {"values": [{"s": "0.950579", "p": 1.0125}]},
 "mark": {"type": "text", "align": "left", "baseline": "middle", "font": "Liberation Sans", "fontSize": 8.6, "color": "#ef5350"},
 "encoding": {
  "x": {"datum": {"year": 2022, "month": 6, "date": 1, "hours": 13, "minutes": 45, "utc": true}, "type": "temporal"},
  "y": {"field": "p", "type": "quantitative"},
  "text": {"field": "s"}
 }},
{"data": {"values": [{"s": "L", "p": 1.0125}]},
 "mark": {"type": "text", "align": "left", "baseline": "middle", "font": "Liberation Sans", "fontSize": 8.6, "color": "#131722"},
 "encoding": {
  "x": {"datum": {"year": 2022, "month": 6, "date": 2, "hours": 10, "minutes": 15, "utc": true}, "type": "temporal"},
  "y": {"field": "p", "type": "quantitative"},
  "text": {"field": "s"}
 }},
{"data": {"values": [{"s": "0.939585", "p": 1.0125}]},
 "mark": {"type": "text", "align": "left", "baseline": "middle", "font": "Liberation Sans", "fontSize": 8.6, "color": "#ef5350"},
 "encoding": {
  "x": {"datum": {"year": 2022, "month": 6, "date": 2, "hours": 12, "minutes": 15, "utc": true}, "type": "temporal"},
  "y": {"field": "p", "type": "quantitative"},
  "text": {"field": "s"}
 }},
{"data": {"values": [{"s": "C", "p": 1.0125}]},
 "mark": {"type": "text", "align": "left", "baseline": "middle", "font": "Liberation Sans", "fontSize": 8.6, "color": "#131722"},
 "encoding": {
  "x": {"datum": {"year": 2022, "month": 6, "date": 3, "hours": 9, "minutes": 15, "utc": true}, "type": "temporal"},
  "y": {"field": "p", "type": "quantitative"},
  "text": {"field": "s"}
 }},
{"data": {"values": [{"s": "0.940570", "p": 1.0125}]},
 "mark": {"type": "text", "align": "left", "baseline": "middle", "font": "Liberation Sans", "fontSize": 8.6, "color": "#ef5350"},
 "encoding": {
  "x": {"datum": {"year": 2022, "month": 6, "date": 3, "hours": 12, "minutes": 15, "utc": true}, "type": "temporal"},
  "y": {"field": "p", "type": "quantitative"},
  "text": {"field": "s"}
 }},
{"data": {"values": [{"s": "−0.009040 (−0.95%)", "p": 1.0125}]},
 "mark": {"type": "text", "align": "left", "baseline": "middle", "font": "Liberation Sans", "fontSize": 8.6, "color": "#ef5350"},
 "encoding": {
  "x": {"datum": {"year": 2022, "month": 6, "date": 4, "hours": 9, "minutes": 45, "utc": true}, "type": "temporal"},
  "y": {"field": "p", "type": "quantitative"},
  "text": {"field": "s"}
 }}
]
}
